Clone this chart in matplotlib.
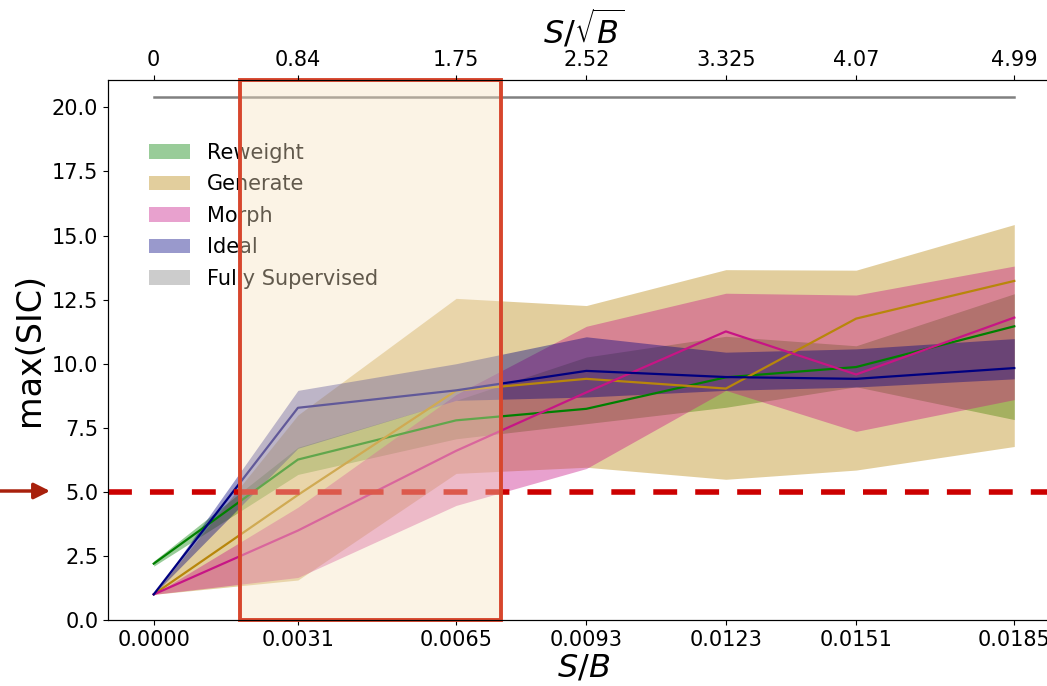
import numpy as np
import matplotlib
matplotlib.use("Agg")
import matplotlib.pyplot as plt
from matplotlib.patches import Rectangle

# x positions (S/B) and matching S/sqrt(B) labels for the top axis
sb = [0.0, 0.0031, 0.0065, 0.0093, 0.0123, 0.0151, 0.0185]
s_sqrt_b = ['0', '0.84', '1.75', '2.52', '3.325', '4.07', '4.99']

reweight_mean = [2.2, 6.26, 7.79, 8.24, 9.47, 9.87, 11.46]
reweight_lo = [2.1, 5.68, 7.07, 7.66, 8.3, 9.1, 7.82]
reweight_hi = [2.3, 6.74, 8.57, 10.26, 11.07, 10.7, 12.73]

generate_mean = [1.0, 4.88, 8.95, 9.41, 9.03, 11.76, 13.23]
generate_lo = [1.0, 1.56, 5.72, 5.96, 5.49, 5.85, 6.77]
generate_hi = [1.0, 8.0, 12.55, 12.27, 13.67, 13.65, 15.43]

morph_mean = [1.0, 3.49, 6.6, 8.88, 11.26, 9.58, 11.8]
morph_lo = [1.0, 1.66, 4.47, 5.91, 8.96, 7.36, 8.6]
morph_hi = [1.0, 4.4, 8.8, 11.46, 12.75, 12.68, 13.81]

ideal_mean = [1.0, 8.28, 8.96, 9.72, 9.48, 9.41, 9.83]
ideal_lo = [1.0, 6.7, 8.57, 8.7, 8.96, 9.09, 9.41]
ideal_hi = [1.0, 8.96, 10.0, 11.05, 10.45, 10.58, 10.98]

fully_mean = [20.39, 20.39, 20.39, 20.39, 20.39, 20.39, 20.39]
fully_lo = [20.37, 20.37, 20.37, 20.37, 20.37, 20.37, 20.37]
fully_hi = [20.41, 20.41, 20.41, 20.41, 20.41, 20.41, 20.41]

threshold = 5.0
box_x = (0.001856, 0.00747)

series = [
    ('Reweight', reweight_mean, reweight_lo, reweight_hi, 'green'),
    ('Generate', generate_mean, generate_lo, generate_hi, 'darkgoldenrod'),
    ('Morph', morph_mean, morph_lo, morph_hi, 'mediumvioletred'),
    ('Ideal', ideal_mean, ideal_lo, ideal_hi, 'navy'),
]

fig = plt.figure(figsize=(10.47, 6.86), dpi=100)
ax = fig.add_axes([108 / 1047, 66 / 686, 952 / 1047, 540 / 686])

for label, mean, lo, hi, c in series:
    ax.fill_between(sb, lo, hi, color=c, alpha=0.4, lw=0, label=label)
    ax.plot(sb, mean, color=c, lw=1.6)

ax.fill_between(sb, fully_lo, fully_hi, color='gray', alpha=0.4, lw=0, label='Fully Supervised')
ax.plot(sb, fully_mean, color='gray', lw=1.8)

ax.axhline(threshold, color='#cc0000', lw=4, linestyle=(0, (4.3, 3.25)), zorder=3)

ax.set_xlim(-0.000983, 0.019483)
ax.set_ylim(0, 21.07)
ax.set_xticks(sb)
ax.set_xticklabels([f'{v:.4f}' for v in sb])
ax.set_yticks(np.arange(0, 20.1, 2.5))
ax.tick_params(labelsize=15)
ax.set_xlabel('$S/B$', fontsize=23, labelpad=2)
ax.set_ylabel('max(SIC)', fontsize=24)

ax.legend(loc='upper left', bbox_to_anchor=(0.034, 0.899), borderaxespad=0,
          frameon=False, fontsize=15, labelspacing=0.55)

# highlighted region
rect = Rectangle((box_x[0], 0), box_x[1] - box_x[0], 1,
                 transform=ax.get_xaxis_transform(),
                 facecolor=(245 / 255, 225 / 255, 192 / 255, 0.4),
                 edgecolor='#d7462d', lw=2.8, zorder=6, clip_on=False)
ax.add_patch(rect)

ax2 = ax.twiny()
ax2.set_xlim(ax.get_xlim())
ax2.set_xticks(sb)
ax2.set_xticklabels(s_sqrt_b)
ax2.tick_params(labelsize=15)
ax2.set_xlabel(r'$S/\sqrt{B}$', fontsize=23, labelpad=5)

# arrow pointing at the threshold line
ax.annotate('', xy=(50, 686 - 491), xytext=(0, 686 - 491),
            xycoords='figure pixels', textcoords='figure pixels',
            arrowprops=dict(arrowstyle='-|>', color='#a8200c', lw=2.5,
                            mutation_scale=24, shrinkA=0, shrinkB=0),
            annotation_clip=False)

fig.savefig('out.png', dpi=100)
